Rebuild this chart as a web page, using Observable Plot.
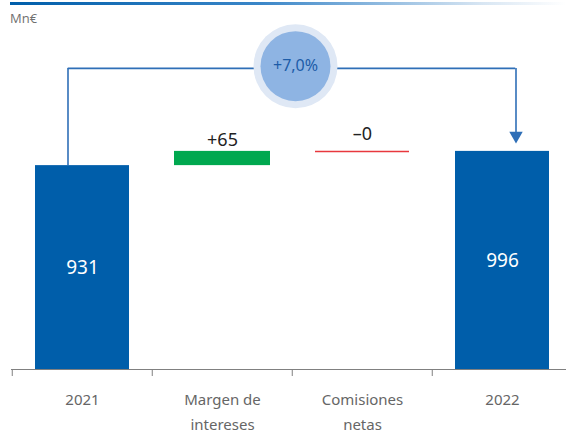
<!DOCTYPE html>
<html><head><meta charset="utf-8">
<script src="https://cdn.jsdelivr.net/npm/d3@7"></script>
<script src="https://cdn.jsdelivr.net/npm/@observablehq/plot@0.6"></script>
<style>
body{margin:0;background:#fff;font-family:"Open Sans",sans-serif;}
#wrap{position:relative;width:566px;height:434px;overflow:hidden;}
#bar{position:absolute;left:10px;top:2px;width:556px;height:3px;background:linear-gradient(to right,#005eaa 0%,#3a86c8 45%,#d8e6f3 85%,#ffffff 100%);}
#unit{position:absolute;left:10px;top:9px;font-size:13px;color:#707070;}
#chart{position:absolute;left:0;top:0;}
#chart svg{max-width:none;}
</style></head>
<body><div id="wrap"><div id="chart"></div><div id="bar"></div><div id="unit">Mn€</div></div>
<script>
const categories = ["2021", "Margen de intereses", "Comisiones netas", "2022"];
const axisLabels = ["2021", "Margen de\nintereses", "Comisiones\nnetas", "2022"];
const startValue = 931;
const deltas = [65, 0];
const endValue = 996;
const deltaLabels = ["+65", "–0"];
const growthLabel = "+7,0%";
const connectorLevel = 1375;

const blue = "#005eaa", green = "#00a84f", red = "#e8383d", link = "#2f6fb7";

const totals = [
  {cat: categories[0], v: startValue, label: String(startValue)},
  {cat: categories[3], v: endValue, label: String(endValue)}
];
let run = startValue;
const steps = deltas.map((d, i) => {
  const s = {cat: categories[i + 1], y1: run, y2: run + d, label: deltaLabels[i]};
  run += d;
  return s;
});
const bubble = [{cat: categories[1], y: connectorLevel + 10, label: growthLabel}];
const span = [{a: categories[0], b: categories[3], y: connectorLevel}];

const chart = Plot.plot({
  width: 566,
  height: 434,
  marginTop: 0,
  marginBottom: 65,
  marginLeft: 11,
  marginRight: 0,
  x: {domain: categories, range: [11, 573], padding: 0, axis: null},
  y: {domain: [0, 1685], axis: null},
  marks: [
    Plot.ruleY([0], {stroke: "#808080", strokeWidth: 1}),
    Plot.ruleX(categories, {x: d => d, dx: -70.25, y1: () => 0, y2: () => -32, stroke: "#808080"}),
    Plot.barY(totals, {x: "cat", y1: () => 0, y2: "v", fill: blue, insetLeft: 23, insetRight: 23}),
    Plot.barY(steps.filter(s => s.y2 !== s.y1), {x: "cat", y1: "y1", y2: "y2", fill: green, insetLeft: 22, insetRight: 22}),
    Plot.tickY(steps.filter(s => s.y2 === s.y1), {x: "cat", y: "y2", stroke: red, strokeWidth: 1.5, insetLeft: 23, insetRight: 23}),
    Plot.text(totals, {x: "cat", y: d => d.v / 2, text: "label", fill: "white", fontSize: 19}),
    Plot.text(steps.filter(s => s.y2 !== s.y1), {x: "cat", y: d => Math.max(d.y1, d.y2), text: "label", dy: -11, fill: "#222", fontSize: 18}),
    Plot.text(steps.filter(s => s.y2 === s.y1), {x: "cat", y: "y2", text: "label", dy: -17, fill: "#222", fontSize: 18}),
    // connector
    Plot.ruleX([totals[0]], {x: "cat", y1: "v", y2: () => connectorLevel, dx: -14.5, stroke: link, strokeWidth: 1.6}),
    Plot.ruleY(span, {x1: "a", x2: "b", y: "y", insetLeft: 55.75, insetRight: 56.75, stroke: link, strokeWidth: 1.6}),
    Plot.ruleX([totals[1]], {x: "cat", y1: () => connectorLevel, y2: d => d.v + 80, dx: 13.5, stroke: link, strokeWidth: 1.6}),
    Plot.dot([totals[1]], {x: "cat", y: d => d.v + 72, dx: 13.5, symbol: "triangle", r: 5, rotate: 180, fill: link, stroke: "none"}),
    // growth bubble
    Plot.dot(bubble, {x: "cat", y: "y", dx: 73, r: 42, fill: "#dfe8f5"}),
    Plot.dot(bubble, {x: "cat", y: "y", dx: 73, r: 35, fill: "#8eb4e3"}),
    Plot.text(bubble, {x: "cat", y: "y", dx: 73, text: "label", fill: "#1d5ca8", fontSize: 16}),
    // axis labels
    Plot.text(axisLabels, {x: (d, i) => categories[i], y: () => 0, dy: 18, lineAnchor: "top", lineHeight: 1.65, text: d => d, fill: "#666666", fontSize: 15})
  ]
});
document.getElementById("chart").appendChild(chart);
</script></body></html>
